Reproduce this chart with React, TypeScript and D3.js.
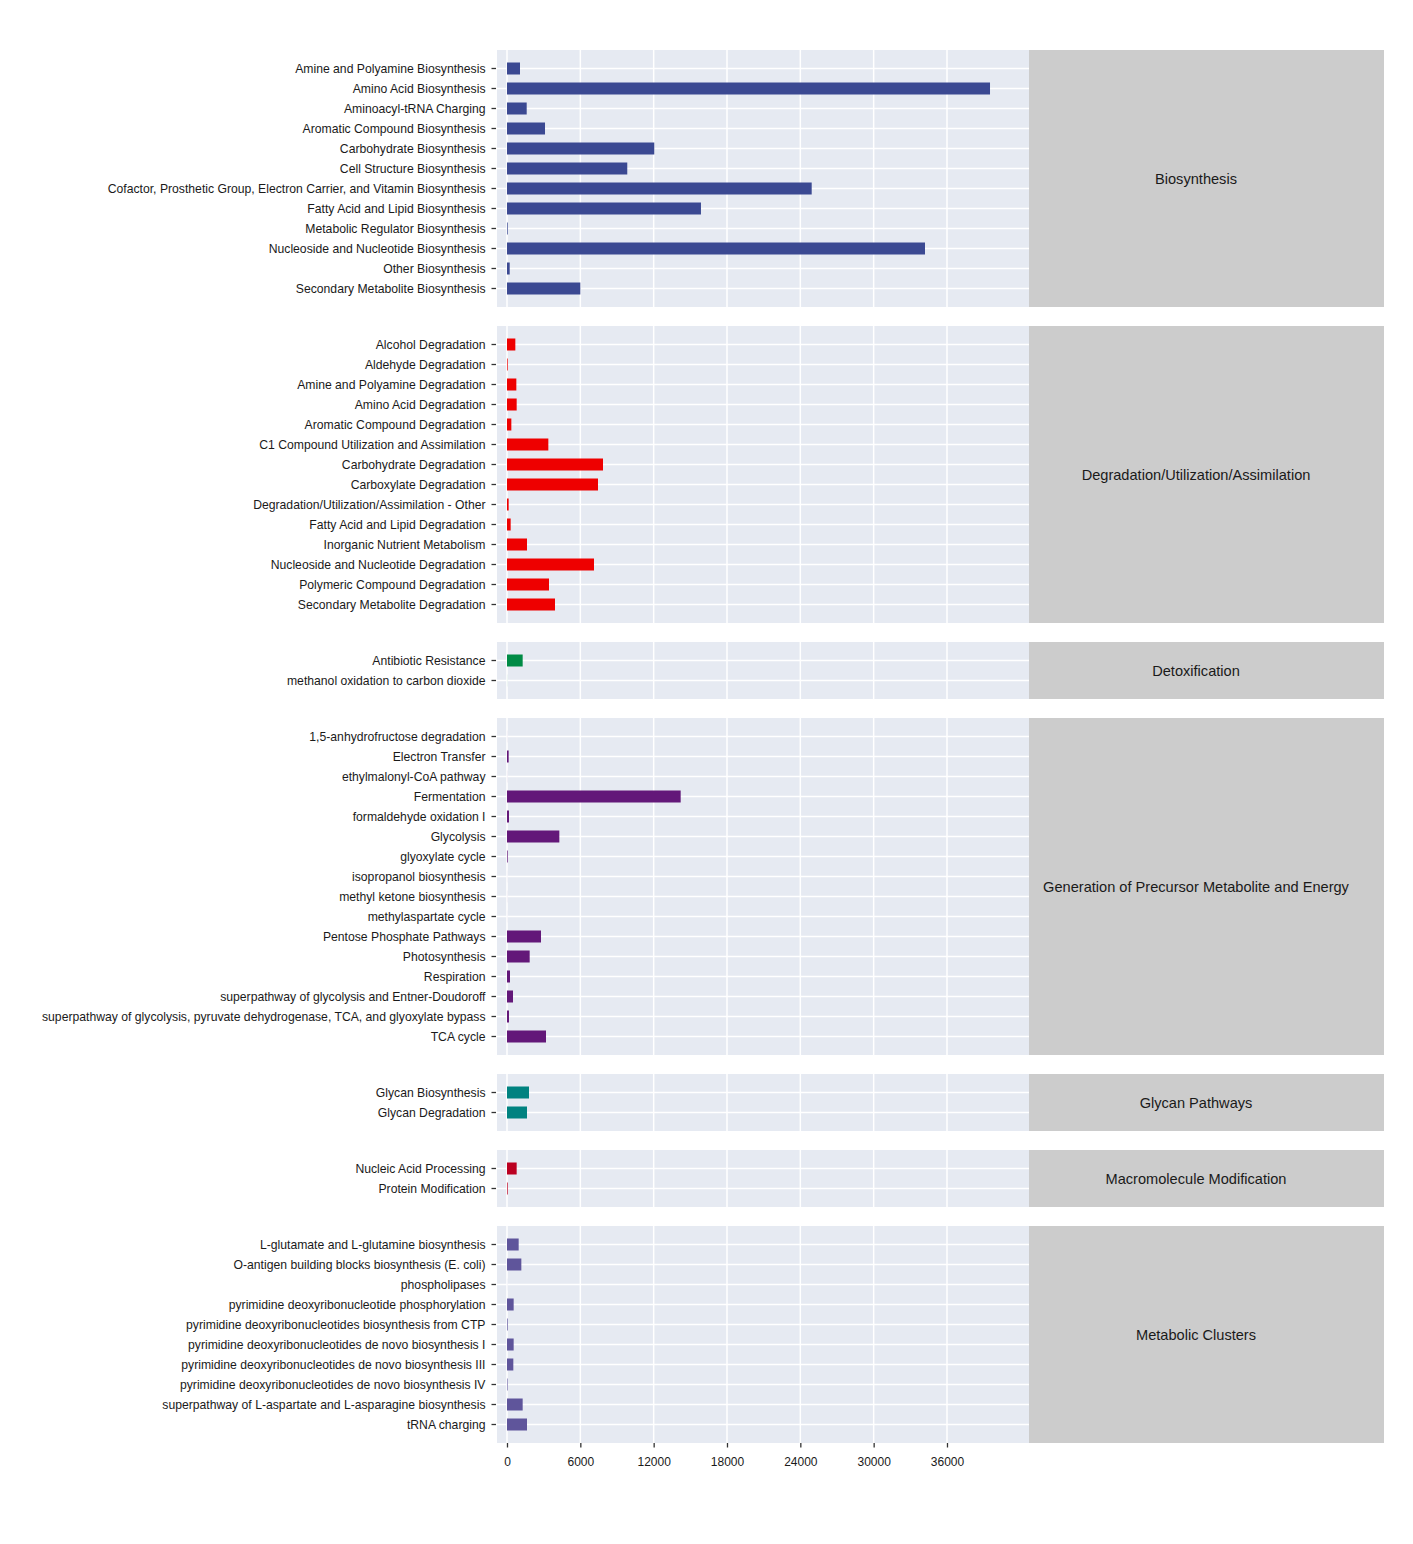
import React, { useRef, useEffect } from 'react';
import * as d3 from 'd3';

interface Facet {
    name: string;
    color: string;
    labels: string[];
    values: number[];
}

// Facet names (strip labels)
const facetNames = [
    'Biosynthesis',
    'Degradation/Utilization/Assimilation',
    'Detoxification',
    'Generation of Precursor Metabolite and Energy',
    'Glycan Pathways',
    'Macromolecule Modification',
    'Metabolic Clusters',
];

const facetColors = ['#3B4992', '#EE0000', '#008B45', '#631879', '#008280', '#BB0021', '#5F559B'];

const biosynthesisLabels = [
    'Amine and Polyamine Biosynthesis',
    'Amino Acid Biosynthesis',
    'Aminoacyl-tRNA Charging',
    'Aromatic Compound Biosynthesis',
    'Carbohydrate Biosynthesis',
    'Cell Structure Biosynthesis',
    'Cofactor, Prosthetic Group, Electron Carrier, and Vitamin Biosynthesis',
    'Fatty Acid and Lipid Biosynthesis',
    'Metabolic Regulator Biosynthesis',
    'Nucleoside and Nucleotide Biosynthesis',
    'Other Biosynthesis',
    'Secondary Metabolite Biosynthesis',
];
const biosynthesisValues = [1064, 39520, 1612, 3110, 12050, 9840, 24930, 15870, 57, 34200, 221, 6000];

const degradationLabels = [
    'Alcohol Degradation',
    'Aldehyde Degradation',
    'Amine and Polyamine Degradation',
    'Amino Acid Degradation',
    'Aromatic Compound Degradation',
    'C1 Compound Utilization and Assimilation',
    'Carbohydrate Degradation',
    'Carboxylate Degradation',
    'Degradation/Utilization/Assimilation - Other',
    'Fatty Acid and Lipid Degradation',
    'Inorganic Nutrient Metabolism',
    'Nucleoside and Nucleotide Degradation',
    'Polymeric Compound Degradation',
    'Secondary Metabolite Degradation',
];
const degradationValues = [682, 55, 764, 791, 355, 3382, 7855, 7445, 136, 300, 1636, 7118, 3436, 3927];

const detoxLabels = ['Antibiotic Resistance', 'methanol oxidation to carbon dioxide'];
const detoxValues = [1282, 4];

const generationLabels = [
    '1,5-anhydrofructose degradation',
    'Electron Transfer',
    'ethylmalonyl-CoA pathway',
    'Fermentation',
    'formaldehyde oxidation I',
    'Glycolysis',
    'glyoxylate cycle',
    'isopropanol biosynthesis',
    'methyl ketone biosynthesis',
    'methylaspartate cycle',
    'Pentose Phosphate Pathways',
    'Photosynthesis',
    'Respiration',
    'superpathway of glycolysis and Entner-Doudoroff',
    'superpathway of glycolysis, pyruvate dehydrogenase, TCA, and glyoxylate bypass',
    'TCA cycle',
];
const generationValues = [3, 136, 4, 14210, 164, 4282, 55, 2, 3, 2, 2782, 1855, 245, 491, 164, 3191];

const glycanLabels = ['Glycan Biosynthesis', 'Glycan Degradation'];
const glycanValues = [1800, 1636];

const macroLabels = ['Nucleic Acid Processing', 'Protein Modification'];
const macroValues = [791, 55];

const clusterLabels = [
    'L-glutamate and L-glutamine biosynthesis',
    'O-antigen building blocks biosynthesis (E. coli)',
    'phospholipases',
    'pyrimidine deoxyribonucleotide phosphorylation',
    'pyrimidine deoxyribonucleotides biosynthesis from CTP',
    'pyrimidine deoxyribonucleotides de novo biosynthesis I',
    'pyrimidine deoxyribonucleotides de novo biosynthesis III',
    'pyrimidine deoxyribonucleotides de novo biosynthesis IV',
    'superpathway of L-aspartate and L-asparagine biosynthesis',
    'tRNA charging',
];
const clusterValues = [955, 1173, 3, 545, 55, 545, 518, 45, 1282, 1636];

const xTicks = [0, 6000, 12000, 18000, 24000, 30000, 36000];

const facets: Facet[] = [
    [biosynthesisLabels, biosynthesisValues],
    [degradationLabels, degradationValues],
    [detoxLabels, detoxValues],
    [generationLabels, generationValues],
    [glycanLabels, glycanValues],
    [macroLabels, macroValues],
    [clusterLabels, clusterValues],
].map(([labels, values], i) => ({
    name: facetNames[i],
    color: facetColors[i],
    labels: labels as string[],
    values: values as number[],
}));

const W = 1413;
const H = 1544;
const FONT = '"Liberation Sans", Arial, Helvetica, sans-serif';

const App: React.FC = () => {
    const svgRef = useRef<SVGSVGElement>(null);

    useEffect(() => {
        const svg = d3.select(svgRef.current);
        svg.selectAll('*').remove();

        const panelLeft = 497;
        const panelRight = 1029;
        const stripRight = 1384;
        const top = 50;
        const step = 20;
        const gap = 19;

        const x = d3.scaleLinear().domain([-818, 42710]).range([panelLeft, panelRight]);

        svg.append('rect').attr('width', W).attr('height', H).attr('fill', '#ffffff');

        let y0 = top;
        facets.forEach((f, fi) => {
            const n = f.labels.length;
            const h = (n - 1) * step + 37;

            const y = d3.scaleBand<string>()
                .domain(f.labels)
                .range([y0, y0 + h])
                .paddingInner(0.4)
                .paddingOuter(0.625);

            const g = svg.append('g');

            // panel background
            g.append('rect')
                .attr('x', panelLeft)
                .attr('y', y0)
                .attr('width', panelRight - panelLeft)
                .attr('height', h)
                .attr('fill', '#E6EAF2');

            // grid lines
            g.selectAll('line.hgrid')
                .data(f.labels)
                .join('line')
                .attr('x1', panelLeft)
                .attr('x2', panelRight)
                .attr('y1', d => (y(d) || 0) + y.bandwidth() / 2)
                .attr('y2', d => (y(d) || 0) + y.bandwidth() / 2)
                .attr('stroke', '#ffffff')
                .attr('stroke-width', 1.5);

            g.selectAll('line.vgrid')
                .data(xTicks)
                .join('line')
                .attr('x1', d => x(d))
                .attr('x2', d => x(d))
                .attr('y1', y0)
                .attr('y2', y0 + h)
                .attr('stroke', '#ffffff')
                .attr('stroke-width', 1.5);

            // bars
            g.selectAll('rect.bar')
                .data(f.labels)
                .join('rect')
                .attr('x', x(0))
                .attr('y', d => y(d) || 0)
                .attr('width', (_, i) => Math.max(0, x(f.values[i]) - x(0)))
                .attr('height', y.bandwidth())
                .attr('fill', f.color);

            // strip
            g.append('rect')
                .attr('x', panelRight)
                .attr('y', y0)
                .attr('width', stripRight - panelRight)
                .attr('height', h)
                .attr('fill', '#CCCCCC');

            g.append('text')
                .attr('x', 1196)
                .attr('y', y0 + h / 2)
                .attr('dy', '0.36em')
                .attr('text-anchor', 'middle')
                .attr('font-family', FONT)
                .attr('font-size', 14.6)
                .attr('fill', '#1A1A1A')
                .text(f.name);

            // y axis
            const yAxis = d3.axisLeft(y).tickSize(4.5).tickPadding(6);
            const ya = g.append('g')
                .attr('transform', `translate(${panelLeft - 1},0)`)
                .call(yAxis);
            ya.select('.domain').remove();
            ya.selectAll('line').attr('stroke', '#333333').attr('stroke-width', 1.3);
            ya.selectAll('text')
                .attr('font-family', FONT)
                .attr('font-size', 12.2)
                .attr('dy', '0.40em')
                .attr('fill', '#1A1A1A');

            // x axis on the last panel
            if (fi === facets.length - 1) {
                const xAxis = d3.axisBottom(x).tickValues(xTicks).tickFormat(d3.format('d')).tickSize(4.5).tickPadding(10);
                const xa = g.append('g')
                    .attr('transform', `translate(0,${y0 + h})`)
                    .call(xAxis);
                xa.select('.domain').remove();
                xa.selectAll('line').attr('stroke', '#333333').attr('stroke-width', 1.3);
                xa.selectAll('text')
                    .attr('font-family', FONT)
                    .attr('font-size', 12)
                    .attr('fill', '#1A1A1A');
            }

            y0 += h + gap;
        });
    }, []);

    return (
        <div style={{ position: 'absolute', left: 0, top: 0 }}>
            <svg ref={svgRef} width={W} height={H} style={{ display: 'block' }}></svg>
        </div>
    );
};

export default App;
